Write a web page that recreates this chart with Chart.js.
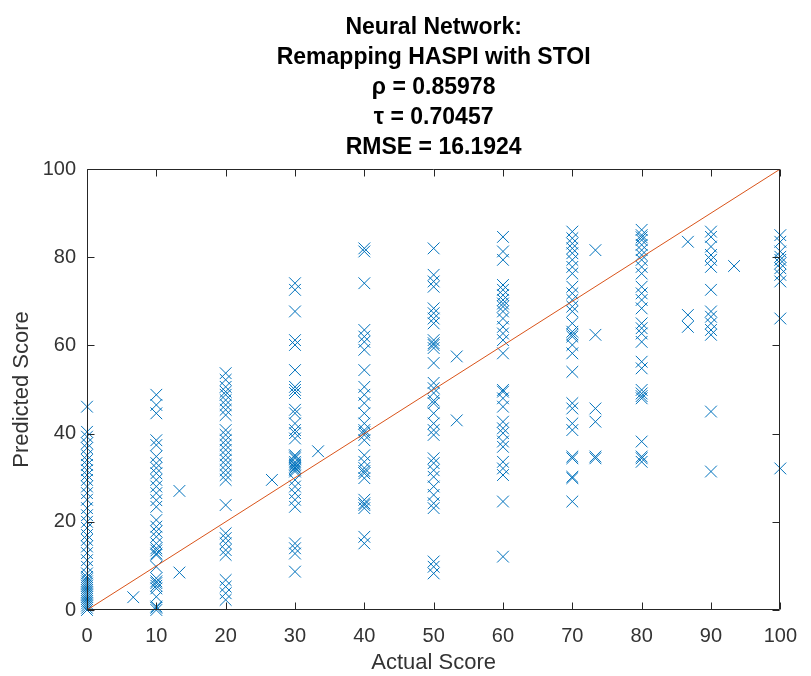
<!DOCTYPE html>
<html>
<head>
<meta charset="utf-8">
<script src="https://cdn.jsdelivr.net/npm/chart.js@4/dist/chart.umd.min.js"></script>
<style>
  html, body { margin: 0; padding: 0; background: #fff; }
  #c { display: block; }
</style>
</head>
<body>
<canvas id="c" width="811" height="676"></canvas>
<script>
// ---- Data ----
const titleLines = ['Neural Network:', 'Remapping HASPI with STOI', '\u03C1 = 0.85978', '\u03C4 = 0.70457', 'RMSE = 16.1924'];
const xLabel = 'Actual Score';
const yLabel = 'Predicted Score';
const xTicks = [0, 10, 20, 30, 40, 50, 60, 70, 80, 90, 100];
const yTicks = [0, 20, 40, 60, 80, 100];

const actual = [0, 6.67, 10, 13.33, 20, 26.67, 30, 33.33, 40, 50, 53.33, 60, 70, 73.33, 80, 86.67, 90, 93.33, 100];

const pred_0 = [46.1, 40.4, 39.3, 37.8, 36.7, 35.1, 34, 32.9, 31.7, 30.6, 29.5, 28, 26.5, 25, 23.1, 21.5, 20, 18.6, 17, 15.9, 14.4, 12.9, 11.3, 9.8, 8.3, 7.5, 7, 6.5, 6, 5.5, 5, 4.5, 4, 3.5, 3, 2.5, 2, 1.5, 1, 0.5, 0];
const pred_6 = [2.9];
const pred_10 = [48.8, 46.5, 44.6, 38.5, 37.4, 34.8, 33.3, 32.2, 31, 29.5, 28, 26.5, 24.9, 23.4, 20.4, 18.9, 17.8, 16.6, 15.1, 14, 13.5, 12.8, 12.5, 9.8, 7.2, 6.5, 6.1, 5.5, 4.9, 3, 0.8, 0.5, 0];
const pred_13 = [27, 8.5];
const pred_20 = [53.7, 52.2, 50.6, 49.5, 48.8, 47.6, 46.5, 45.4, 44.2, 40.8, 39.7, 38.5, 37.4, 36.3, 35.1, 34, 32.9, 31.7, 30.6, 29.5, 23.8, 17.4, 16.3, 15.1, 13.6, 12.5, 6.8, 5.3, 3.8, 2.3];
const pred_26 = [29.5];
const pred_30 = [74.1, 72.6, 67.7, 61.2, 60.1, 54.4, 50.6, 49.9, 49.2, 45.4, 44.6, 42.3, 40.8, 40.1, 38.9, 35.1, 34.8, 34.4, 33.6, 33.2, 32.9, 32.5, 32.2, 31.8, 31.4, 29.5, 28, 26.5, 25, 23.4, 15.1, 14, 12.8, 8.7];
const pred_33 = [36];
const pred_40 = [82, 81.3, 74.1, 63.5, 62, 60.8, 59, 54.4, 50.6, 48.8, 46.9, 44.6, 42.3, 40.8, 40.3, 39.7, 38.5, 35.1, 33.6, 32.2, 31.5, 31, 29.9, 25, 24.2, 23.8, 23.1, 16.6, 15.1];
const pred_50 = [82, 76, 74.5, 73.3, 68.4, 67.3, 66.1, 65, 61.2, 60.5, 60.1, 59.4, 56, 51.5, 50.3, 49.2, 47.5, 46.9, 44.6, 42.3, 40.8, 39.7, 34.4, 33.3, 31.7, 30.2, 28, 26.1, 24.2, 23.1, 11, 9.8, 8.3];
const pred_53 = [57.5, 43];
const pred_60 = [84.6, 81.3, 79.4, 73.7, 72.6, 71.4, 70.3, 69.5, 68.8, 67.7, 66.1, 64.2, 62.7, 61.2, 58.2, 49.9, 49.5, 48, 46.1, 42.7, 41.2, 40.1, 38.2, 37, 33.6, 32.1, 30.6, 24.6, 12.1];
const pred_70 = [85.8, 84.3, 83.1, 82, 80.9, 79.4, 77.8, 76.3, 73.3, 71.8, 70.3, 68.8, 67.7, 65, 63.1, 62.5, 62, 60.1, 58.2, 54, 46.9, 45.7, 42.3, 40.8, 34.8, 34.4, 30.2, 29.9, 24.6];
const pred_73 = [81.6, 62.4, 45.7, 42.7, 34.8, 34.4];
const pred_80 = [86.2, 85, 84.5, 83.9, 82.8, 81.6, 80.5, 79.4, 77.8, 76.3, 73.3, 71.8, 70.3, 68.4, 65, 63.9, 62.7, 60.8, 56.3, 54.8, 49.9, 49.1, 48.5, 48, 38.2, 34.8, 34.4, 33.6];
const pred_86 = [83.5, 66.9, 64.2];
const pred_90 = [85.8, 84.6, 82.4, 80.5, 79.4, 77.8, 72.6, 67.7, 66.5, 65, 63.5, 62.4, 45, 31.4];
const pred_93 = [78];
const pred_100 = [85, 83.5, 81.3, 80.1, 79.4, 78.6, 77.5, 76, 74.5, 66.1, 32.1];

const predicted = [pred_0, pred_6, pred_10, pred_13, pred_20, pred_26, pred_30, pred_33, pred_40, pred_50, pred_53, pred_60, pred_70, pred_73, pred_80, pred_86, pred_90, pred_93, pred_100];
const identityLine = [0, 100];

// ---- Build the point table from the arrays ----
const points = [];
actual.forEach((a, i) => predicted[i].forEach(p => points.push({ x: a, y: p })));

const FONT = "'Liberation Sans', Arial, Helvetica, sans-serif";
const AXIS_COLOR = '#262626';
const TEXT_COLOR = '#333333';
const MARK_COLOR = '#0072BD';

// Box around the axes with inward ticks (MATLAB style)
const boxPlugin = {
  id: 'box',
  afterDraw(chart) {
    const { ctx, chartArea: a, scales } = chart;
    ctx.save();
    ctx.strokeStyle = AXIS_COLOR;
    ctx.lineWidth = 1;
    const L = Math.round(a.left) + 0.5, R = Math.round(a.right) - 0.5;
    const T = Math.round(a.top) + 0.5, B = Math.round(a.bottom) - 0.5;
    ctx.beginPath();
    ctx.rect(L, T, R - L, B - T);
    const tl = 7;
    scales.x.ticks.forEach(t => {
      const px = Math.round(scales.x.getPixelForValue(t.value)) + 0.5;
      ctx.moveTo(px, B); ctx.lineTo(px, B - tl);
      ctx.moveTo(px, T); ctx.lineTo(px, T + tl);
    });
    scales.y.ticks.forEach(t => {
      const py = Math.round(scales.y.getPixelForValue(t.value)) + 0.5;
      ctx.moveTo(L, py); ctx.lineTo(L + tl, py);
      ctx.moveTo(R, py); ctx.lineTo(R - tl, py);
    });
    ctx.stroke();
    ctx.restore();
  }
};

const bg = {
  id: 'bg',
  beforeDraw(chart) {
    const { ctx } = chart;
    ctx.save();
    ctx.fillStyle = '#fff';
    ctx.fillRect(0, 0, chart.width, chart.height);
    ctx.restore();
  }
};

new Chart(document.getElementById('c'), {
  type: 'scatter',
  data: {
    datasets: [
      {
        type: 'line',
        data: identityLine.map(v => ({ x: v, y: v })),
        borderColor: '#D95319',
        borderWidth: 1,
        pointRadius: 0,
        fill: false,
        order: 0
      },
      {
        data: points,
        pointStyle: 'crossRot',
        pointRadius: 8.3,
        pointHoverRadius: 8.3,
        borderColor: MARK_COLOR,
        backgroundColor: MARK_COLOR,
        pointBorderColor: MARK_COLOR,
        pointBackgroundColor: MARK_COLOR,
        pointHoverBorderColor: MARK_COLOR,
        pointBorderWidth: 1,
        clip: false,
        order: 1
      }
    ]
  },
  options: {
    responsive: false,
    animation: false,
    events: [],
    layout: { padding: { left: 0, right: 20, top: 0, bottom: 0 } },
    plugins: {
      legend: { display: false },
      tooltip: { enabled: false },
      title: {
        display: true,
        fullSize: false,
        text: titleLines,
        color: '#000',
        font: { family: FONT, size: 23, weight: 'bold', lineHeight: 1.3043 },
        padding: { top: 13, bottom: 6 }
      }
    },
    scales: {
      x: {
        type: 'linear',
        min: 0, max: 100,
        afterBuildTicks(scale) { scale.ticks = xTicks.map(v => ({ value: v })); },
        afterFit(scale) { scale.height = 66; },
        grid: { display: false, drawTicks: false },
        border: { display: false },
        ticks: { color: TEXT_COLOR, font: { family: FONT, size: 20 }, padding: 14, maxRotation: 0, autoSkip: false },
        title: { display: true, text: xLabel, color: TEXT_COLOR, font: { family: FONT, size: 22 }, padding: { top: 0, bottom: 0 } }
      },
      y: {
        type: 'linear',
        min: 0, max: 100,
        afterBuildTicks(scale) { scale.ticks = yTicks.map(v => ({ value: v })); },
        afterFit(scale) { scale.width = 87; },
        grid: { display: false, drawTicks: false },
        border: { display: false },
        ticks: { color: TEXT_COLOR, font: { family: FONT, size: 20 }, padding: 11, autoSkip: false },
        title: { display: true, text: yLabel, color: TEXT_COLOR, font: { family: FONT, size: 22 }, padding: { top: 9, bottom: 0 } }
      }
    }
  },
  plugins: [bg, boxPlugin]
});
</script>
</body>
</html>
